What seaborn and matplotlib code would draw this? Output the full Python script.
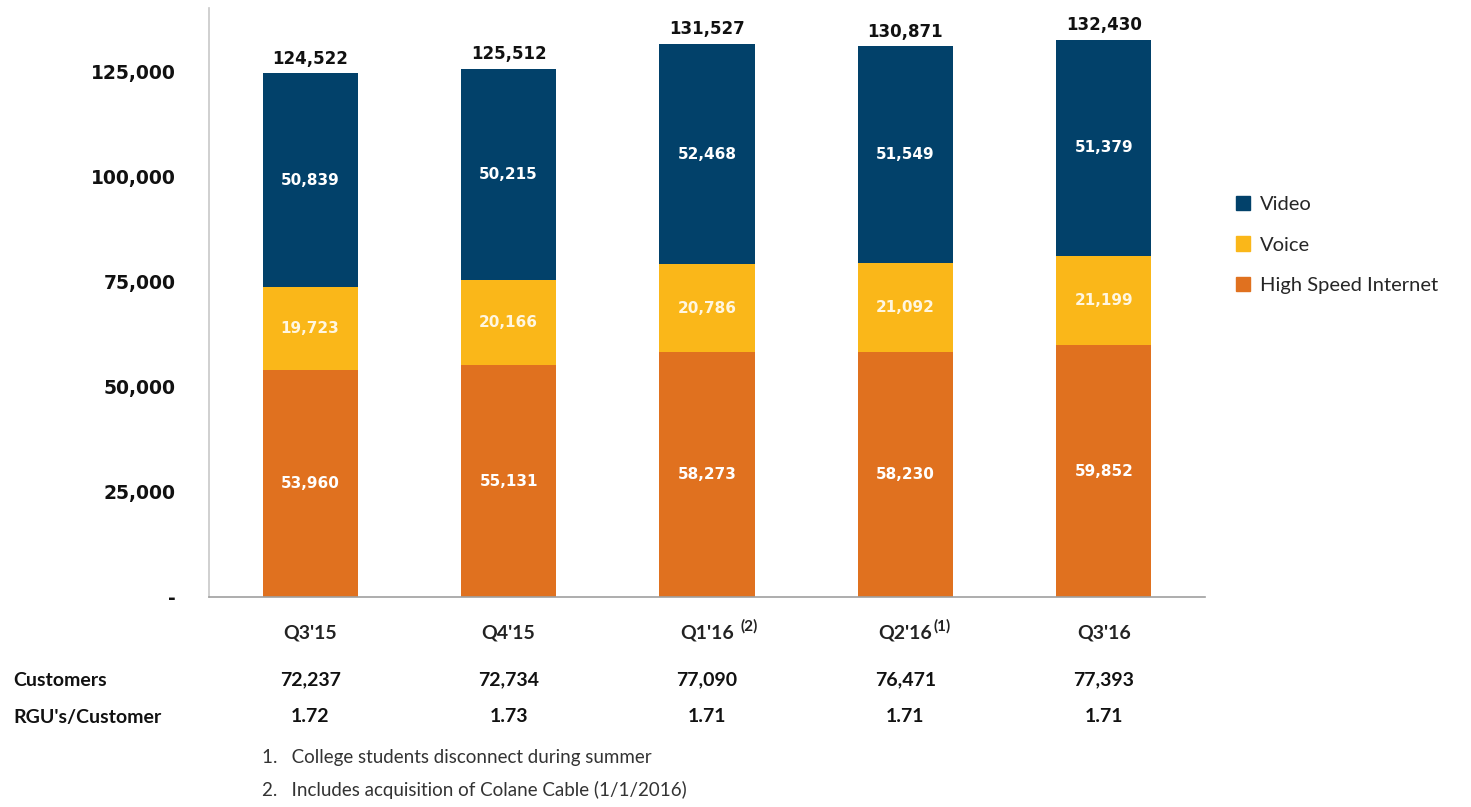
import matplotlib
matplotlib.use("Agg")
import matplotlib.pyplot as plt
import seaborn as sns
import pandas as pd
import numpy as np
from matplotlib.patches import Patch
from matplotlib.transforms import blended_transform_factory

quarters = ["Q3'15", "Q4'15", "Q1'16", "Q2'16", "Q3'16"]
superscripts = ["", "", "(2)", "(1)", ""]
hsi = [53960, 55131, 58273, 58230, 59852]
voice = [19723, 20166, 20786, 21092, 21199]
video = [50839, 50215, 52468, 51549, 51379]
customers = ["72,237", "72,734", "77,090", "76,471", "77,393"]
rgu = ["1.72", "1.73", "1.71", "1.71", "1.71"]
yticks = [0, 25000, 50000, 75000, 100000, 125000]
ytick_labels = ["-", "25,000", "50,000", "75,000", "100,000", "125,000"]
footnotes = ["1.   College students disconnect during summer",
             "2.   Includes acquisition of Colane Cable (1/1/2016)"]

c_video = "#02416A"
c_voice = "#FAB719"
c_hsi = "#E0711F"

sns.set_theme(style="white")
plt.rcParams["font.family"] = ["DejaVu Sans"]

fig = plt.figure(figsize=(14.71, 8.07), dpi=100)
ax = fig.add_axes([209/1471, 1-597/807, (1205-209)/1471, (597-8)/807])

df = pd.DataFrame({"quarter": quarters, "hsi": hsi, "voice": voice, "video": video})
df["b_voice"] = df["hsi"]
df["b_video"] = df["hsi"] + df["voice"]
df["total"] = df["hsi"] + df["voice"] + df["video"]

w = 0.48
sns.barplot(data=df, x="quarter", y="hsi", color=c_hsi, width=w, saturation=1, ax=ax,
            linewidth=0)
sns.barplot(data=df, x="quarter", y="voice", bottom=df["b_voice"].values, color=c_voice,
            width=w, saturation=1, ax=ax, linewidth=0)
sns.barplot(data=df, x="quarter", y="video", bottom=df["b_video"].values, color=c_video,
            width=w, saturation=1, ax=ax, linewidth=0)

for cont, vals, col in zip(ax.containers, [hsi, voice, video], ["white", "#FFF6E0", "white"]):
    ax.bar_label(cont, labels=[f"{v:,}" for v in vals], label_type="center",
                 color=col, fontsize=11, fontweight="bold", family="DejaVu Sans")

ax.bar_label(ax.containers[2], labels=[f"{v:,}" for v in df["total"]], padding=4,
             color="#111111", fontsize=12, fontweight="bold", family="DejaVu Sans")

ax.set_ylim(0, 140000)
ax.set_xlim(-0.51, 4.51)
ax.set_yticks(yticks)
ax.set_yticklabels(ytick_labels, fontsize=13.5, fontweight="bold", color="#111111")
ax.set_xticks(range(len(quarters)))
ax.set_xticklabels(quarters, fontsize=14, fontweight="bold", family="Lato", color="#222222")
ax.tick_params(axis="both", length=0)
ax.tick_params(axis="x", pad=20)
ax.tick_params(axis="y", pad=24)
ax.set_xlabel("")
ax.set_ylabel("")
for s in ["top", "right"]:
    ax.spines[s].set_visible(False)
ax.spines["left"].set_color("#C8C8C8")
ax.spines["bottom"].set_color("#A0A0A0")
ax.spines["left"].set_linewidth(1.2)
ax.spines["bottom"].set_linewidth(1.2)

# superscripts next to tick labels
fig.canvas.draw()
for i, sup in enumerate(superscripts):
    if sup:
        lbl = ax.get_xticklabels()[i]
        bb = lbl.get_window_extent()
        x_fig = (bb.x1 + (7 if i == 2 else 1)) / fig.bbox.width
        y_fig = ((bb.y0 + bb.y1) / 2 + 7) / fig.bbox.height
        fig.text(x_fig, y_fig, sup, fontsize=11, fontweight="bold", family="Lato",
                 color="#222222", ha="left", va="center")

# table rows below
xt = blended_transform_factory(ax.transData, fig.transFigure)
row_y = [1-680/807, 1-717/807]
fig.text(13/1471, row_y[0], "Customers", fontsize=14, fontweight="bold", family="Lato",
         va="center", ha="left", color="#111111")
fig.text(13/1471, row_y[1], "RGU's/Customer", fontsize=14, fontweight="bold", family="Lato",
         va="center", ha="left", color="#111111")
for i in range(len(quarters)):
    ax.text(i, row_y[0], customers[i], transform=xt, fontsize=14, fontweight="bold",
            family="Lato", ha="center", va="center", color="#111111")
    ax.text(i, row_y[1], rgu[i], transform=xt, fontsize=14, fontweight="bold",
            family="Lato", ha="center", va="center", color="#111111")

for j, fn in enumerate(footnotes):
    fig.text(262/1471, 1-(757 + 33*j)/807, fn, fontsize=13.5, family="Lato",
             va="center", ha="left", color="#333333")

handles = [Patch(color=c_video, label="Video"), Patch(color=c_voice, label="Voice"),
           Patch(color=c_hsi, label="High Speed Internet")]
fig.legend(handles=handles, loc="center left", bbox_to_anchor=(1218/1471, 1-245/807),
           frameon=False, prop={"family": "Lato", "size": 14.5},
           handlelength=0.7, handleheight=0.7, handletextpad=0.5, labelspacing=1.15)

fig.savefig("out.png", dpi=100)
